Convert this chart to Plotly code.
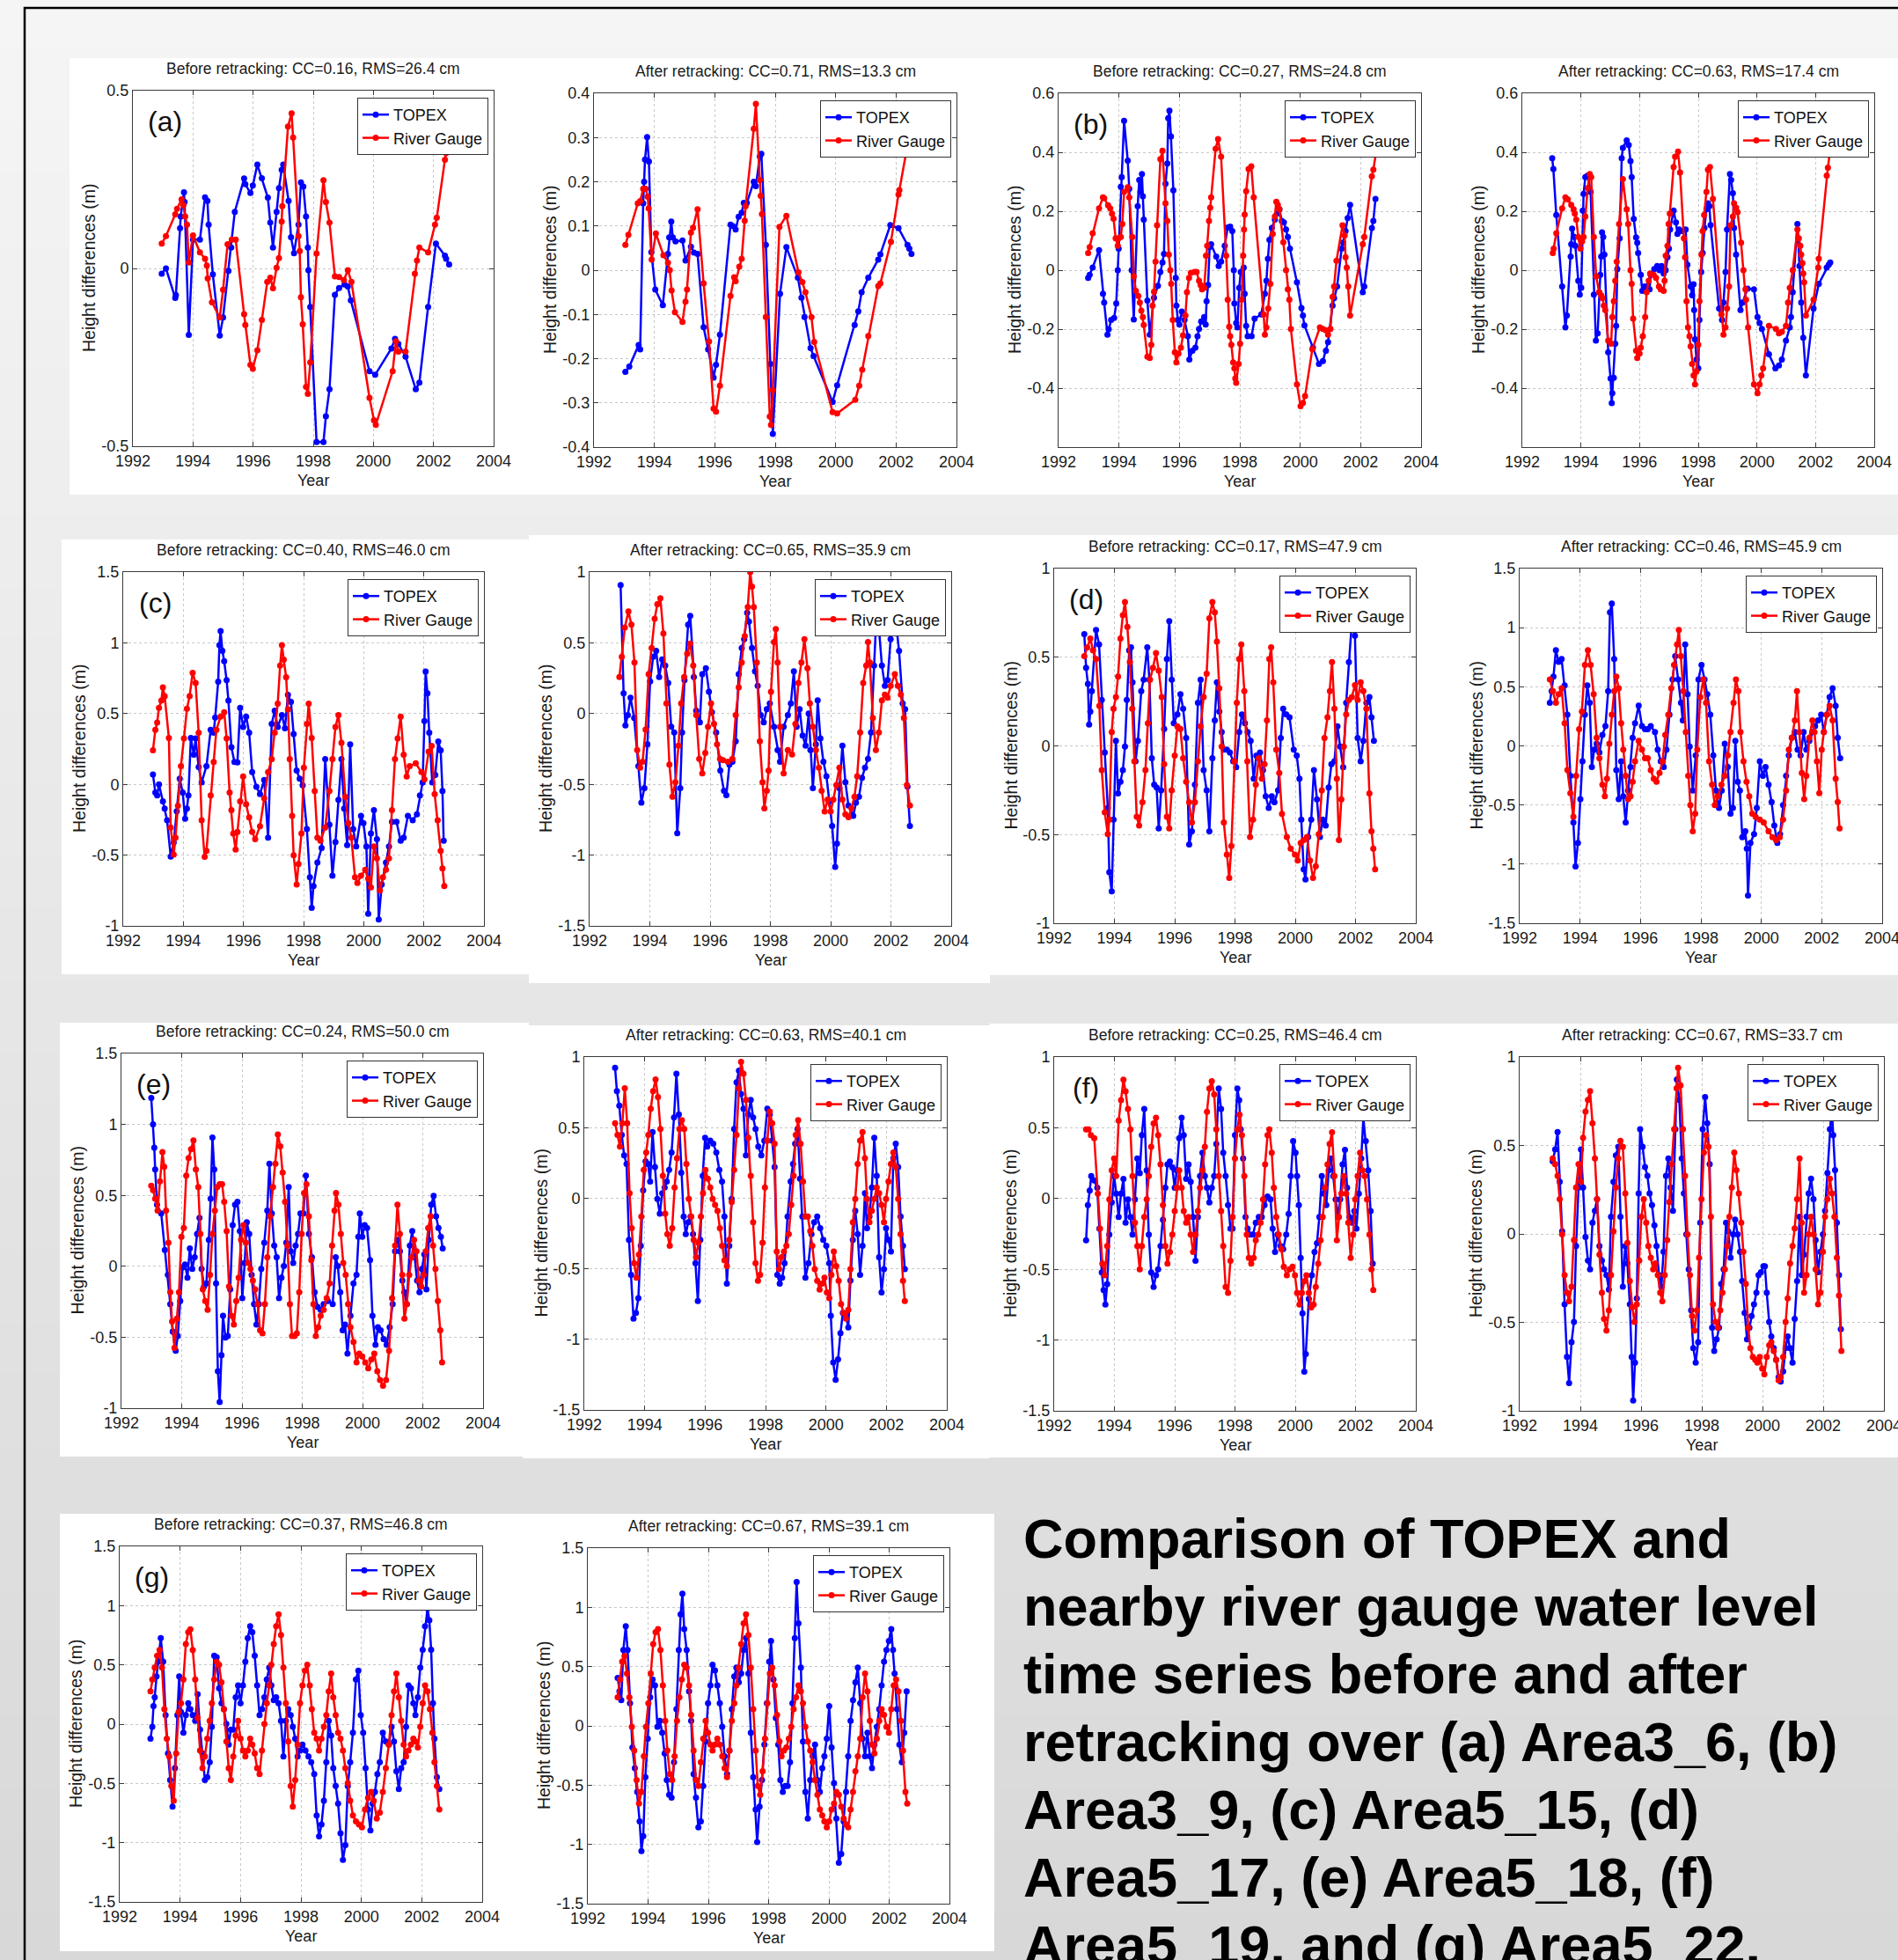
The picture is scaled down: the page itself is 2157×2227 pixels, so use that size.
import plotly.graph_objects as go

# ---------------- DATA (year, height difference in m) ----------------
A_BEF_TOPEX = [(1992.96,-0.015),(1993.10,0.0),(1993.41,-0.083),(1993.43,-0.075),(1993.57,0.113),(1993.59,0.146),(1993.70,0.214),(1993.72,0.187),(1993.86,-0.187),(1994.0,0.081),(1994.23,0.081),(1994.40,0.2),(1994.48,0.19),(1994.52,0.123),(1994.66,-0.017),(1994.89,-0.189),(1995.0,-0.138),(1995.18,-0.007),(1995.27,0.059),(1995.39,0.159),(1995.70,0.253),(1995.74,0.237),(1995.91,0.212),(1995.99,0.233),(1996.14,0.292),(1996.29,0.254),(1996.49,0.199),(1996.57,0.129),(1996.66,0.059),(1996.78,0.159),(1996.86,0.226),(1996.95,0.277),(1997.0,0.292),(1997.18,0.19),(1997.26,0.088),(1997.36,0.043),(1997.51,0.123),(1997.59,0.242),(1997.67,0.23),(1997.76,0.146),(1997.82,0.059),(1997.84,-0.005),(1997.90,-0.108),(1998.11,-0.488),(1998.34,-0.488),(1998.42,-0.416),(1998.54,-0.34),(1998.72,-0.074),(1998.86,-0.055),(1999.04,-0.045),(1999.15,-0.051),(1999.25,-0.09),(1999.87,-0.289),(2000.06,-0.299),(2000.60,-0.225),(2000.72,-0.198),(2000.83,-0.212),(2001.07,-0.248),(2001.41,-0.34),(2001.53,-0.321),(2001.82,-0.108),(2002.08,0.07),(2002.38,0.036),(2002.42,0.027),(2002.52,0.011)]
A_BEF_RIVER = [(1992.96,0.07),(1993.10,0.091),(1993.41,0.152),(1993.47,0.168),(1993.62,0.194),(1993.68,0.178),(1993.74,0.146),(1993.80,0.123),(1993.86,0.017),(1994.0,0.093),(1994.23,0.045),(1994.40,0.027),(1994.46,0.008),(1994.49,-0.028),(1994.63,-0.095),(1994.89,-0.138),(1995.0,-0.06),(1995.15,0.068),(1995.29,0.081),(1995.42,0.081),(1995.70,-0.129),(1995.74,-0.159),(1995.91,-0.271),(1995.99,-0.282),(1996.14,-0.23),(1996.29,-0.145),(1996.47,-0.038),(1996.57,-0.026),(1996.66,-0.056),(1996.78,0.002),(1996.86,0.029),(1996.95,0.132),(1996.97,0.175),(1997.16,0.399),(1997.28,0.436),(1997.33,0.368),(1997.51,0.091),(1997.55,0.049),(1997.59,-0.081),(1997.65,-0.157),(1997.76,-0.333),(1997.82,-0.353),(1997.90,-0.264),(1998.11,0.042),(1998.34,0.248),(1998.42,0.187),(1998.54,0.129),(1998.72,-0.022),(1998.86,-0.024),(1999.02,-0.033),(1999.15,-0.005),(1999.27,-0.038),(1999.87,-0.364),(2000.02,-0.427),(2000.08,-0.44),(2000.64,-0.289),(2000.75,-0.205),(2000.83,-0.234),(2001.07,-0.234),(2001.38,-0.015),(2001.45,0.022),(2001.53,0.059),(2001.82,0.045),(2002.05,0.123),(2002.11,0.143),(2002.38,0.306),(2002.42,0.324)]
A_AFT_TOPEX = [(1993.04,-0.23),(1993.17,-0.218),(1993.48,-0.169),(1993.53,-0.179),(1993.63,0.151),(1993.66,0.2),(1993.69,0.25),(1993.76,0.301),(1993.82,0.246),(1993.90,0.041),(1994.03,-0.044),(1994.28,-0.079),(1994.45,0.037),(1994.49,0.074),(1994.56,0.11),(1994.61,0.074),(1994.70,0.065),(1994.93,0.067),(1995.03,0.022),(1995.21,0.053),(1995.31,0.04),(1995.43,0.037),(1995.63,-0.129),(1995.78,-0.179),(1995.96,-0.243),(1996.04,-0.214),(1996.17,-0.146),(1996.52,0.103),(1996.59,0.1),(1996.69,0.092),(1996.79,0.121),(1996.89,0.13),(1996.96,0.152),(1997.06,0.152),(1997.29,0.2),(1997.36,0.19),(1997.49,0.257),(1997.54,0.263),(1997.69,0.057),(1997.84,-0.212),(1997.92,-0.37),(1998.16,-0.053),(1998.37,0.052),(1998.75,-0.017),(1998.87,-0.062),(1998.97,-0.106),(1999.17,-0.176),(1999.27,-0.194),(1999.90,-0.298),(2000.05,-0.26),(2000.63,-0.124),(2000.75,-0.093),(2000.86,-0.05),(2001.08,-0.017),(2001.41,0.024),(2001.48,0.036),(2001.81,0.102),(2002.08,0.095),(2002.38,0.057),(2002.44,0.049),(2002.51,0.037)]
A_AFT_RIVER = [(1993.04,0.057),(1993.14,0.08),(1993.45,0.151),(1993.53,0.156),(1993.63,0.184),(1993.71,0.184),(1993.78,0.166),(1993.81,0.14),(1993.91,0.024),(1994.05,0.083),(1994.30,0.034),(1994.45,0.017),(1994.51,0.0),(1994.57,-0.046),(1994.68,-0.095),(1994.93,-0.117),(1995.03,-0.071),(1995.08,-0.044),(1995.21,0.085),(1995.28,0.096),(1995.43,0.138),(1995.63,-0.03),(1995.81,-0.161),(1995.96,-0.313),(1996.04,-0.32),(1996.17,-0.261),(1996.52,-0.058),(1996.64,-0.016),(1996.69,-0.025),(1996.81,0.008),(1996.89,0.026),(1996.99,0.112),(1997.02,0.145),(1997.29,0.32),(1997.36,0.376),(1997.49,0.204),(1997.52,0.168),(1997.56,0.127),(1997.69,-0.106),(1997.82,-0.331),(1997.86,-0.35),(1997.92,-0.271),(1998.14,0.098),(1998.37,0.123),(1998.77,-0.005),(1998.90,-0.027),(1999.0,-0.05),(1999.20,-0.106),(1999.29,-0.162),(1999.90,-0.321),(2000.05,-0.324),(2000.65,-0.293),(2000.78,-0.261),(2000.88,-0.225),(2001.08,-0.149),(2001.41,-0.036),(2001.48,-0.03),(2001.83,0.064),(2002.08,0.171),(2002.11,0.181),(2002.44,0.306),(2002.54,0.369)]

B_BEF_TOPEX = [(1992.98,-0.026),(1993.03,-0.016),(1993.13,0.009),(1993.34,0.068),(1993.47,-0.08),(1993.51,-0.11),(1993.62,-0.219),(1993.66,-0.2),(1993.74,-0.169),(1993.84,-0.162),(1993.91,-0.113),(1993.96,0.0),(1993.99,0.073),(1994.06,0.283),(1994.09,0.316),(1994.17,0.507),(1994.29,0.372),(1994.34,0.276),(1994.42,0.0),(1994.49,-0.167),(1994.62,0.217),(1994.67,0.306),(1994.71,0.266),(1994.76,0.326),(1994.79,0.251),(1994.82,0.172),(1994.94,-0.103),(1995.02,-0.219),(1995.16,-0.093),(1995.29,-0.053),(1995.37,-0.006),(1995.44,0.026),(1995.49,0.055),(1995.54,0.293),(1995.60,0.362),(1995.63,0.516),(1995.67,0.541),(1995.72,0.454),(1995.80,0.271),(1995.88,-0.026),(1995.90,-0.12),(1995.95,-0.169),(1996.0,-0.184),(1996.08,-0.14),(1996.17,-0.169),(1996.28,-0.224),(1996.33,-0.303),(1996.43,-0.273),(1996.53,-0.263),(1996.60,-0.224),(1996.65,-0.199),(1996.72,-0.174),(1996.82,-0.159),(1996.87,-0.184),(1996.90,-0.105),(1996.95,-0.05),(1997.0,0.078),(1997.05,0.088),(1997.22,0.046),(1997.30,0.014),(1997.38,0.029),(1997.50,0.083),(1997.60,0.145),(1997.68,0.148),(1997.75,0.133),(1997.80,0.0),(1997.82,-0.113),(1997.88,-0.179),(1997.92,-0.194),(1997.98,-0.06),(1998.03,-0.006),(1998.13,0.009),(1998.16,-0.08),(1998.21,-0.189),(1998.26,-0.224),(1998.39,-0.224),(1998.49,-0.164),(1998.71,-0.15),(1998.83,-0.08),(1998.88,-0.036),(1998.93,0.039),(1998.98,0.103),(1999.06,0.143),(1999.16,0.172),(1999.23,0.192),(1999.31,0.207),(1999.39,0.167),(1999.46,0.162),(1999.53,0.138),(1999.59,0.113),(1999.66,0.073),(1999.89,-0.041),(2000.04,-0.128),(2000.09,-0.154),(2000.14,-0.187),(2000.42,-0.263),(2000.62,-0.318),(2000.75,-0.308),(2000.85,-0.273),(2000.92,-0.244),(2001.07,-0.12),(2001.12,-0.095),(2001.22,-0.055),(2001.37,0.073),(2001.42,0.093),(2001.50,0.133),(2001.57,0.177),(2001.65,0.222),(2002.07,-0.075),(2002.12,-0.055),(2002.37,0.143),(2002.42,0.167),(2002.49,0.242)]
B_BEF_RIVER = [(1992.98,0.058),(1993.03,0.078),(1993.13,0.125),(1993.34,0.21),(1993.47,0.247),(1993.51,0.244),(1993.64,0.22),(1993.71,0.21),(1993.77,0.192),(1993.82,0.175),(1993.89,0.108),(1993.96,0.083),(1993.99,0.108),(1994.06,0.113),(1994.11,0.157),(1994.17,0.266),(1994.29,0.281),(1994.34,0.247),(1994.44,0.113),(1994.49,-0.021),(1994.56,-0.07),(1994.64,-0.087),(1994.69,-0.11),(1994.74,-0.137),(1994.79,-0.159),(1994.82,-0.186),(1994.94,-0.293),(1995.02,-0.298),(1995.07,-0.253),(1995.11,-0.12),(1995.16,-0.073),(1995.21,0.029),(1995.26,0.152),(1995.37,0.377),(1995.44,0.405),(1995.54,0.227),(1995.60,0.167),(1995.65,0.053),(1995.70,0.0),(1995.73,-0.046),(1995.78,-0.169),(1995.85,-0.278),(1995.90,-0.313),(1995.97,-0.283),(1996.05,-0.263),(1996.12,-0.221),(1996.20,-0.154),(1996.25,-0.075),(1996.32,-0.026),(1996.38,-0.009),(1996.50,-0.006),(1996.57,-0.006),(1996.65,-0.036),(1996.70,-0.05),(1996.75,-0.065),(1996.82,-0.06),(1996.88,0.049),(1996.92,0.083),(1996.98,0.167),(1997.02,0.212),(1997.05,0.247),(1997.20,0.412),(1997.28,0.445),(1997.38,0.385),(1997.55,0.049),(1997.60,-0.1),(1997.65,-0.192),(1997.68,-0.224),(1997.72,-0.253),(1997.78,-0.313),(1997.82,-0.333),(1997.85,-0.367),(1997.88,-0.382),(1997.96,-0.318),(1998.01,-0.249),(1998.06,-0.1),(1998.11,0.049),(1998.14,0.138),(1998.16,0.189),(1998.21,0.268),(1998.29,0.343),(1998.38,0.352),(1998.46,0.247),(1998.79,-0.15),(1998.83,-0.219),(1998.88,-0.194),(1998.94,-0.13),(1999.01,-0.046),(1999.09,0.123),(1999.16,0.182),(1999.21,0.232),(1999.26,0.222),(1999.31,0.207),(1999.44,0.095),(1999.53,0.0),(1999.59,-0.065),(1999.64,-0.1),(1999.69,-0.199),(1999.89,-0.387),(2000.01,-0.461),(2000.09,-0.45),(2000.16,-0.427),(2000.40,-0.268),(2000.65,-0.194),(2000.75,-0.199),(2000.85,-0.204),(2000.92,-0.219),(2001.0,-0.199),(2001.07,-0.09),(2001.12,-0.055),(2001.20,0.032),(2001.40,0.152),(2001.47,0.118),(2001.50,0.044),(2001.54,0.009),(2001.59,-0.055),(2001.65,-0.154),(2002.07,0.088),(2002.12,0.113),(2002.37,0.319),(2002.42,0.341),(2002.52,0.405)]
B_AFT_TOPEX = [(1993.02,0.38),(1993.06,0.343),(1993.16,0.187),(1993.36,-0.055),(1993.47,-0.194),(1993.52,-0.154),(1993.65,0.046),(1993.67,0.088),(1993.70,0.141),(1993.77,0.113),(1993.81,0.083),(1993.91,-0.036),(1993.96,-0.083),(1994.01,-0.06),(1994.06,0.202),(1994.09,0.259),(1994.15,0.316),(1994.23,0.321),(1994.33,0.266),(1994.44,-0.083),(1994.51,-0.239),(1994.57,-0.214),(1994.62,-0.075),(1994.66,-0.016),(1994.69,0.046),(1994.72,0.128),(1994.76,0.113),(1994.80,0.053),(1994.93,-0.278),(1995.01,-0.367),(1995.05,-0.451),(1995.07,-0.417),(1995.12,-0.365),(1995.17,-0.249),(1995.20,-0.189),(1995.24,0.004),(1995.32,0.108),(1995.39,0.38),(1995.43,0.415),(1995.56,0.44),(1995.63,0.425),(1995.69,0.37),(1995.73,0.316),(1995.80,0.174),(1995.88,0.111),(1995.92,0.093),(1995.95,0.058),(1996.04,-0.016),(1996.09,-0.07),(1996.17,-0.055),(1996.24,-0.055),(1996.34,-0.065),(1996.38,-0.016),(1996.50,0.004),(1996.60,0.014),(1996.68,0.0),(1996.75,0.014),(1996.82,-0.011),(1996.89,0.0),(1996.95,0.044),(1997.0,0.073),(1997.04,0.138),(1997.16,0.202),(1997.24,0.162),(1997.29,0.123),(1997.35,0.138),(1997.43,0.133),(1997.57,0.138),(1997.63,0.019),(1997.74,-0.055),(1997.79,-0.085),(1997.84,-0.048),(1997.86,-0.135),(1997.89,-0.234),(1997.94,-0.303),(1998.0,-0.333),(1998.04,-0.169),(1998.10,-0.006),(1998.15,0.058),(1998.21,0.143),(1998.28,0.207),(1998.33,0.227),(1998.38,0.217),(1998.42,0.153),(1998.71,-0.13),(1998.81,-0.169),(1998.86,-0.11),(1998.93,-0.006),(1998.98,0.138),(1999.08,0.326),(1999.12,0.306),(1999.18,0.261),(1999.22,0.143),(1999.29,0.053),(1999.44,-0.135),(1999.51,-0.11),(1999.68,-0.063),(1999.90,-0.065),(2000.02,-0.159),(2000.09,-0.179),(2000.17,-0.199),(2000.41,-0.285),(2000.63,-0.333),(2000.75,-0.323),(2000.85,-0.303),(2000.99,-0.239),(2001.12,-0.194),(2001.16,-0.159),(2001.22,-0.075),(2001.38,0.157),(2001.45,0.014),(2001.51,-0.11),(2001.58,-0.229),(2001.67,-0.357),(2001.93,-0.13),(2002.11,-0.046),(2002.38,0.009),(2002.45,0.019),(2002.50,0.026)]
B_AFT_RIVER = [(1993.04,0.058),(1993.07,0.073),(1993.16,0.125),(1993.36,0.21),(1993.47,0.247),(1993.55,0.24),(1993.67,0.222),(1993.75,0.207),(1993.79,0.192),(1993.84,0.172),(1993.91,0.113),(1993.98,0.073),(1994.04,0.098),(1994.09,0.113),(1994.15,0.182),(1994.23,0.278),(1994.30,0.326),(1994.35,0.316),(1994.44,0.113),(1994.52,-0.021),(1994.62,-0.075),(1994.69,-0.085),(1994.74,-0.095),(1994.78,-0.12),(1994.83,-0.135),(1994.93,-0.239),(1995.03,-0.249),(1995.07,-0.159),(1995.12,-0.105),(1995.17,-0.036),(1995.22,0.029),(1995.30,0.157),(1995.43,0.309),(1995.56,0.207),(1995.61,0.157),(1995.69,0.0),(1995.73,-0.046),(1995.78,-0.164),(1995.88,-0.273),(1995.92,-0.298),(1996.0,-0.283),(1996.04,-0.263),(1996.11,-0.224),(1996.19,-0.159),(1996.24,-0.075),(1996.31,-0.036),(1996.36,-0.011),(1996.48,-0.016),(1996.56,-0.026),(1996.66,-0.055),(1996.72,-0.065),(1996.82,-0.07),(1996.85,-0.036),(1996.89,0.049),(1996.95,0.083),(1996.99,0.157),(1997.03,0.192),(1997.16,0.35),(1997.21,0.385),(1997.31,0.402),(1997.38,0.331),(1997.51,0.108),(1997.55,0.044),(1997.60,-0.105),(1997.65,-0.194),(1997.70,-0.224),(1997.74,-0.258),(1997.79,-0.318),(1997.84,-0.357),(1997.89,-0.387),(1997.94,-0.343),(1998.0,-0.253),(1998.04,-0.105),(1998.11,0.053),(1998.15,0.133),(1998.20,0.187),(1998.28,0.266),(1998.33,0.341),(1998.40,0.35),(1998.50,0.242),(1998.79,-0.15),(1998.86,-0.219),(1998.93,-0.194),(1998.98,-0.13),(1999.05,-0.055),(1999.10,0.152),(1999.18,0.182),(1999.22,0.227),(1999.29,0.212),(1999.34,0.197),(1999.46,0.093),(1999.54,0.0),(1999.61,-0.065),(1999.63,-0.1),(1999.70,-0.194),(1999.90,-0.387),(2000.02,-0.417),(2000.09,-0.387),(2000.15,-0.357),(2000.21,-0.333),(2000.41,-0.189),(2000.65,-0.199),(2000.75,-0.214),(2000.85,-0.209),(2000.99,-0.189),(2001.06,-0.11),(2001.12,-0.06),(2001.22,0.0),(2001.38,0.138),(2001.43,0.108),(2001.48,0.083),(2001.51,0.053),(2001.55,0.024),(2001.58,-0.011),(2001.61,-0.041),(2001.67,-0.154),(2001.93,-0.1),(2002.09,0.009),(2002.11,0.039),(2002.38,0.321),(2002.42,0.348),(2002.50,0.41)]

C_BEF_TOPEX = [(1992.99,0.07),(1993.07,-0.058),(1993.13,-0.078),(1993.19,0.0),(1993.32,-0.12),(1993.38,-0.171),(1993.46,-0.254),(1993.58,-0.51),(1993.68,-0.41),(1993.78,-0.19),(1993.88,0.04),(1993.98,-0.058),(1994.06,-0.243),(1994.12,-0.171),(1994.17,-0.078),(1994.25,0.328),(1994.35,0.21),(1994.41,0.324),(1994.51,0.122),(1994.61,0.014),(1994.77,0.128),(1994.91,0.386),(1995.01,0.365),(1995.06,0.472),(1995.16,0.726),(1995.20,0.984),(1995.24,1.083),(1995.30,0.943),(1995.36,0.87),(1995.44,0.736),(1995.50,0.592),(1995.60,0.262),(1995.70,0.159),(1995.80,0.155),(1995.89,0.54),(1995.99,0.406),(1996.09,0.478),(1996.19,0.365),(1996.29,0.087),(1996.43,-0.017),(1996.55,-0.068),(1996.69,0.031),(1996.82,-0.377),(1996.94,0.427),(1997.04,0.52),(1997.14,0.406),(1997.28,0.489),(1997.38,0.396),(1997.48,0.633),(1997.58,0.582),(1997.67,0.355),(1997.77,0.097),(1997.87,0.04),(1997.97,-0.006),(1998.11,-0.316),(1998.21,-0.656),(1998.27,-0.872),(1998.33,-0.718),(1998.46,-0.553),(1998.60,-0.45),(1998.72,0.179),(1998.86,-0.285),(1998.96,-0.646),(1999.06,-0.408),(1999.16,-0.109),(1999.26,0.179),(1999.35,-0.171),(1999.45,-0.429),(1999.55,0.283),(1999.65,-0.316),(1999.75,-0.439),(1999.91,-0.223),(1999.99,-0.274),(2000.09,-0.439),(2000.15,-0.914),(2000.24,-0.347),(2000.34,-0.182),(2000.44,-0.388),(2000.50,-0.955),(2000.60,-0.708),(2000.74,-0.553),(2000.84,-0.439),(2000.94,-0.264),(2001.09,-0.264),(2001.23,-0.398),(2001.33,-0.377),(2001.47,-0.223),(2001.63,-0.254),(2001.77,-0.212),(2001.87,-0.078),(2001.96,0.014),(2002.02,0.448),(2002.06,0.798),(2002.12,0.644),(2002.18,0.365),(2002.28,0.014),(2002.38,0.066),(2002.48,0.303),(2002.56,0.241),(2002.62,-0.047),(2002.66,-0.398)]
C_BEF_RIVER = [(1992.99,0.241),(1993.07,0.386),(1993.13,0.437),(1993.19,0.54),(1993.27,0.592),(1993.32,0.685),(1993.38,0.623),(1993.52,0.328),(1993.58,-0.305),(1993.68,-0.497),(1993.74,-0.377),(1993.82,-0.151),(1993.92,0.128),(1994.02,0.324),(1994.12,0.534),(1994.21,0.623),(1994.31,0.788),(1994.41,0.716),(1994.51,0.365),(1994.61,-0.254),(1994.71,-0.512),(1994.77,-0.47),(1994.91,-0.078),(1995.01,0.159),(1995.10,0.386),(1995.24,0.479),(1995.36,0.51),(1995.44,0.324),(1995.54,-0.058),(1995.60,-0.182),(1995.66,-0.347),(1995.74,-0.46),(1995.80,-0.336),(1995.89,-0.12),(1995.99,0.056),(1996.09,-0.14),(1996.19,-0.233),(1996.29,-0.336),(1996.39,-0.388),(1996.55,-0.295),(1996.69,-0.099),(1996.82,0.087),(1996.94,0.179),(1997.04,0.365),(1997.14,0.571),(1997.22,0.84),(1997.28,0.984),(1997.34,0.881),(1997.42,0.757),(1997.48,0.53),(1997.54,0.179),(1997.62,-0.223),(1997.67,-0.501),(1997.77,-0.708),(1997.83,-0.563),(1997.93,-0.347),(1998.01,0.118),(1998.11,0.427),(1998.17,0.571),(1998.27,0.328),(1998.37,-0.047),(1998.46,-0.377),(1998.56,-0.398),(1998.72,-0.305),(1998.86,-0.047),(1998.96,0.179),(1999.06,0.406),(1999.16,0.489),(1999.26,0.293),(1999.39,-0.089),(1999.49,-0.274),(1999.59,-0.377),(1999.71,-0.656),(1999.79,-0.697),(1999.91,-0.646),(2000.05,-0.604),(2000.15,-0.666),(2000.24,-0.728),(2000.34,-0.439),(2000.44,-0.522),(2000.54,-0.749),(2000.64,-0.656),(2000.74,-0.604),(2000.84,-0.522),(2000.94,-0.182),(2001.04,0.179),(2001.13,0.324),(2001.23,0.479),(2001.33,0.21),(2001.43,0.056),(2001.53,0.128),(2001.73,0.149),(2001.92,0.087),(2002.02,0.035),(2002.16,0.231),(2002.26,0.272),(2002.36,-0.068),(2002.46,-0.254),(2002.56,-0.47),(2002.62,-0.594),(2002.68,-0.718)]
C_AFT_TOPEX = [(1993.03,0.908),(1993.13,0.144),(1993.19,-0.083),(1993.27,-0.01),(1993.36,0.113),(1993.48,-0.031),(1993.62,-0.371),(1993.72,-0.629),(1993.82,-0.526),(1993.92,-0.217),(1994.01,0.227),(1994.11,0.402),(1994.21,0.443),(1994.31,0.258),(1994.41,0.382),(1994.51,0.34),(1994.61,0.217),(1994.71,-0.093),(1994.81,-0.134),(1994.91,-0.846),(1995.01,-0.526),(1995.07,-0.134),(1995.15,0.237),(1995.27,0.629),(1995.34,0.691),(1995.46,0.258),(1995.54,0.021),(1995.66,-0.062),(1995.74,0.278),(1995.86,0.32),(1995.96,0.155),(1996.06,0.01),(1996.20,-0.134),(1996.34,-0.402),(1996.46,-0.546),(1996.54,-0.577),(1996.64,-0.361),(1996.74,-0.34),(1996.85,-0.196),(1996.95,0.278),(1997.05,0.464),(1997.13,0.526),(1997.23,0.712),(1997.29,0.65),(1997.39,0.464),(1997.49,0.299),(1997.58,0.196),(1997.68,-0.01),(1997.78,-0.062),(1997.88,0.031),(1997.98,0.072),(1998.12,-0.093),(1998.24,-0.258),(1998.32,-0.34),(1998.44,-0.093),(1998.58,-0.01),(1998.68,0.072),(1998.78,0.299),(1998.87,-0.093),(1998.97,0.031),(1999.07,-0.155),(1999.17,-0.227),(1999.27,0.0),(1999.33,-0.258),(1999.41,-0.526),(1999.51,-0.217),(1999.57,0.093),(1999.66,-0.175),(1999.76,-0.34),(1999.86,-0.443),(1999.96,-0.619),(2000.05,-0.794),(2000.15,-1.083),(2000.21,-0.918),(2000.29,-0.526),(2000.39,-0.227),(2000.49,-0.485),(2000.59,-0.65),(2000.75,-0.722),(2000.84,-0.629),(2000.94,-0.588),(2001.04,-0.454),(2001.14,-0.382),(2001.24,-0.32),(2001.34,-0.134),(2001.44,0.34),(2001.50,0.608),(2001.60,0.608),(2001.70,0.34),(2001.80,0.196),(2001.89,0.237),(2001.99,0.526),(2002.07,0.588),(2002.19,0.598),(2002.27,0.443),(2002.39,0.072),(2002.47,0.031),(2002.55,-0.516),(2002.63,-0.794)]
C_AFT_RIVER = [(1992.99,0.258),(1993.07,0.402),(1993.17,0.608),(1993.29,0.722),(1993.39,0.629),(1993.49,0.361),(1993.58,-0.258),(1993.68,-0.382),(1993.76,-0.34),(1993.86,-0.113),(1993.96,0.278),(1994.06,0.464),(1994.16,0.67),(1994.25,0.773),(1994.35,0.815),(1994.45,0.567),(1994.55,0.072),(1994.65,-0.361),(1994.75,-0.588),(1994.85,-0.485),(1994.95,-0.227),(1995.04,0.072),(1995.14,0.258),(1995.24,0.423),(1995.34,0.495),(1995.44,0.34),(1995.54,-0.01),(1995.64,-0.32),(1995.74,-0.423),(1995.84,-0.278),(1995.93,-0.093),(1996.03,0.072),(1996.13,-0.072),(1996.23,-0.217),(1996.33,-0.32),(1996.43,-0.33),(1996.59,-0.34),(1996.74,-0.32),(1996.85,-0.01),(1996.95,0.186),(1997.05,0.361),(1997.15,0.547),(1997.25,0.753),(1997.33,1.0),(1997.39,0.897),(1997.45,0.753),(1997.55,0.361),(1997.65,-0.196),(1997.74,-0.485),(1997.80,-0.67),(1997.88,-0.546),(1997.94,-0.402),(1998.02,0.155),(1998.12,0.505),(1998.18,0.598),(1998.24,0.361),(1998.32,-0.093),(1998.44,-0.423),(1998.58,-0.258),(1998.72,-0.289),(1998.83,-0.072),(1998.93,0.217),(1999.03,0.361),(1999.13,0.526),(1999.23,0.32),(1999.31,0.072),(1999.41,-0.093),(1999.51,-0.258),(1999.61,-0.382),(1999.70,-0.546),(1999.80,-0.691),(1999.90,-0.608),(2000.0,-0.691),(2000.09,-0.608),(2000.19,-0.505),(2000.29,-0.382),(2000.39,-0.608),(2000.49,-0.712),(2000.59,-0.732),(2000.69,-0.67),(2000.79,-0.588),(2000.88,-0.443),(2000.98,-0.134),(2001.08,0.217),(2001.18,0.34),(2001.24,0.505),(2001.30,0.361),(2001.40,-0.031),(2001.50,-0.258),(2001.60,-0.134),(2001.70,0.093),(2001.80,0.134),(2001.89,0.113),(2001.99,0.196),(2002.13,0.278),(2002.23,0.196),(2002.33,0.134),(2002.43,-0.031),(2002.53,-0.505),(2002.63,-0.65)]

D_BEF_TOPEX = [(1993.0,0.63),(1993.06,0.44),(1993.12,0.35),(1993.16,0.12),(1993.20,0.193),(1993.25,0.309),(1993.39,0.654),(1993.49,0.572),(1993.58,0.259),(1993.68,-0.037),(1993.78,-0.35),(1993.83,-0.712),(1993.91,-0.82),(1993.97,-0.416),(1994.05,0.029),(1994.12,-0.268),(1994.20,-0.202),(1994.28,-0.136),(1994.35,-0.004),(1994.41,0.259),(1994.49,0.539),(1994.55,0.556),(1994.60,0.358),(1994.70,-0.087),(1994.78,0.029),(1994.89,0.309),(1994.97,0.374),(1995.09,0.556),(1995.16,0.374),(1995.24,-0.07),(1995.32,-0.218),(1995.40,-0.235),(1995.47,-0.465),(1995.55,-0.251),(1995.65,0.095),(1995.74,0.49),(1995.82,0.704),(1995.90,0.374),(1995.97,0.128),(1996.09,0.177),(1996.19,0.292),(1996.28,0.21),(1996.38,0.045),(1996.48,-0.556),(1996.57,-0.481),(1996.67,-0.218),(1996.77,0.243),(1996.86,0.374),(1996.96,-0.136),(1997.06,-0.251),(1997.15,-0.481),(1997.25,-0.07),(1997.33,0.144),(1997.40,0.358),(1997.48,0.193),(1997.56,0.078),(1997.63,-0.021),(1997.73,-0.021),(1997.83,-0.037),(1997.94,-0.087),(1998.04,-0.12),(1998.14,0.078),(1998.23,0.177),(1998.33,0.128),(1998.42,0.078),(1998.52,0.029),(1998.62,-0.185),(1998.71,-0.054),(1998.83,-0.037),(1998.93,-0.136),(1999.02,-0.284),(1999.12,-0.35),(1999.22,-0.284),(1999.31,-0.317),(1999.43,-0.251),(1999.52,0.045),(1999.60,0.21),(1999.70,0.177),(1999.81,0.161),(1999.95,-0.021),(2000.05,-0.054),(2000.14,-0.185),(2000.20,-0.416),(2000.28,-0.696),(2000.34,-0.753),(2000.43,-0.514),(2000.53,-0.416),(2000.62,-0.136),(2000.72,-0.301),(2000.82,-0.514),(2000.91,-0.416),(2001.01,-0.449),(2001.11,-0.235),(2001.20,-0.103),(2001.30,-0.087),(2001.40,0.111),(2001.49,-0.004),(2001.59,-0.12),(2001.69,0.243),(2001.78,0.473),(2001.88,0.704),(2001.98,0.622),(2002.07,0.045),(2002.17,-0.087),(2002.26,0.029),(2002.36,0.243),(2002.46,0.276),(2002.53,0.161),(2002.61,0.029)]
D_BEF_RIVER = [(1993.0,0.506),(1993.10,0.556),(1993.20,0.605),(1993.29,0.539),(1993.39,0.49),(1993.50,0.226),(1993.58,-0.136),(1993.68,-0.375),(1993.78,-0.498),(1993.83,-0.416),(1993.91,0.078),(1993.97,0.21),(1994.05,0.276),(1994.12,0.391),(1994.20,0.605),(1994.28,0.737),(1994.35,0.811),(1994.43,0.671),(1994.51,0.473),(1994.59,0.21),(1994.66,-0.087),(1994.74,-0.4),(1994.82,-0.449),(1994.93,-0.317),(1995.03,-0.136),(1995.11,0.128),(1995.18,0.374),(1995.28,0.44),(1995.38,0.523),(1995.47,0.424),(1995.57,0.276),(1995.65,-0.103),(1995.74,-0.4),(1995.82,-0.465),(1995.90,-0.251),(1996.0,-0.054),(1996.09,0.111),(1996.19,0.095),(1996.28,-0.07),(1996.38,-0.202),(1996.48,-0.317),(1996.57,-0.432),(1996.67,-0.317),(1996.77,-0.087),(1996.86,0.111),(1996.96,0.276),(1997.06,0.407),(1997.15,0.72),(1997.25,0.811),(1997.33,0.753),(1997.40,0.588),(1997.48,0.325),(1997.56,-0.004),(1997.63,-0.432),(1997.73,-0.613),(1997.81,-0.745),(1997.88,-0.564),(1997.98,-0.087),(1998.06,0.243),(1998.14,0.49),(1998.21,0.572),(1998.31,0.309),(1998.41,-0.087),(1998.50,-0.514),(1998.60,-0.416),(1998.69,-0.218),(1998.79,-0.07),(1998.89,-0.185),(1998.98,-0.103),(1999.06,0.144),(1999.14,0.49),(1999.20,0.556),(1999.27,0.358),(1999.37,-0.021),(1999.47,-0.152),(1999.56,-0.383),(1999.72,-0.514),(1999.85,-0.58),(1999.99,-0.613),(2000.08,-0.646),(2000.18,-0.547),(2000.28,-0.531),(2000.39,-0.514),(2000.49,-0.646),(2000.59,-0.745),(2000.68,-0.679),(2000.78,-0.498),(2000.88,-0.251),(2000.97,0.045),(2001.07,0.161),(2001.15,0.309),(2001.22,0.473),(2001.30,0.21),(2001.38,-0.185),(2001.45,-0.531),(2001.53,-0.301),(2001.61,-0.004),(2001.69,0.177),(2001.78,0.259),(2001.88,0.276),(2001.98,0.342),(2002.07,0.259),(2002.17,0.358),(2002.26,0.309),(2002.36,0.21),(2002.46,-0.268),(2002.53,-0.481),(2002.59,-0.58),(2002.65,-0.696)]
D_AFT_TOPEX = [(1993.0,0.364),(1993.06,0.463),(1993.12,0.586),(1993.20,0.809),(1993.29,0.71),(1993.39,0.735),(1993.49,0.512),(1993.58,0.265),(1993.68,-0.253),(1993.78,-0.648),(1993.85,-1.019),(1993.93,-0.821),(1994.01,-0.451),(1994.08,-0.13),(1994.16,0.265),(1994.24,0.512),(1994.32,0.364),(1994.39,-0.179),(1994.47,-0.031),(1994.55,0.019),(1994.64,-0.056),(1994.74,0.093),(1994.84,0.167),(1994.93,0.463),(1994.99,1.13),(1995.05,1.204),(1995.13,0.735),(1995.20,-0.204),(1995.28,-0.451),(1995.36,-0.13),(1995.43,-0.426),(1995.51,-0.648),(1995.59,-0.377),(1995.67,-0.179),(1995.74,0.068),(1995.82,0.191),(1995.94,0.34),(1996.05,0.167),(1996.15,0.142),(1996.24,0.142),(1996.34,0.167),(1996.48,0.117),(1996.57,-0.031),(1996.67,-0.13),(1996.77,-0.179),(1996.86,-0.031),(1996.96,0.265),(1997.06,0.562),(1997.15,0.759),(1997.25,0.562),(1997.34,0.364),(1997.40,0.216),(1997.48,0.858),(1997.56,0.438),(1997.63,-0.006),(1997.73,-0.377),(1997.83,-0.08),(1997.92,0.562),(1998.02,0.685),(1998.12,0.562),(1998.21,0.438),(1998.31,0.265),(1998.41,-0.08),(1998.50,-0.377),(1998.60,-0.525),(1998.69,-0.377),(1998.79,0.019),(1998.89,-0.179),(1998.98,-0.574),(1999.06,-0.525),(1999.14,0.043),(1999.22,-0.303),(1999.29,-0.377),(1999.37,-0.772),(1999.47,-0.722),(1999.52,-0.87),(1999.56,-1.265),(1999.64,-0.821),(1999.76,-0.747),(1999.85,-0.525),(1999.95,-0.13),(2000.05,-0.253),(2000.14,-0.179),(2000.24,-0.327),(2000.34,-0.475),(2000.43,-0.673),(2000.53,-0.821),(2000.62,-0.747),(2000.72,-0.5),(2000.82,-0.253),(2000.91,-0.08),(2001.01,0.068),(2001.11,0.117),(2001.20,-0.031),(2001.30,-0.08),(2001.40,0.117),(2001.49,-0.031),(2001.59,0.043),(2001.69,0.117),(2001.78,0.167),(2001.88,0.216),(2001.98,0.265),(2002.07,0.117),(2002.17,0.265),(2002.26,0.413),(2002.36,0.488),(2002.46,0.339),(2002.53,0.068),(2002.61,-0.105)]
D_AFT_RIVER = [(1993.0,0.562),(1993.10,0.463),(1993.20,0.364),(1993.29,0.438),(1993.39,0.488),(1993.49,0.191),(1993.58,-0.204),(1993.68,-0.401),(1993.78,-0.599),(1993.87,-0.253),(1993.97,0.142),(1994.06,0.29),(1994.16,0.685),(1994.26,0.809),(1994.35,0.685),(1994.45,0.438),(1994.55,0.068),(1994.64,-0.105),(1994.74,-0.327),(1994.82,-0.426),(1994.89,-0.278),(1994.97,0.019),(1995.05,0.265),(1995.13,0.463),(1995.20,0.586),(1995.28,0.488),(1995.36,0.191),(1995.43,-0.031),(1995.51,-0.253),(1995.59,-0.451),(1995.67,-0.426),(1995.74,-0.303),(1995.82,-0.13),(1995.94,0.043),(1996.05,-0.031),(1996.15,-0.105),(1996.24,-0.105),(1996.34,-0.204),(1996.44,-0.278),(1996.53,-0.303),(1996.63,-0.229),(1996.73,-0.13),(1996.82,0.093),(1996.92,0.265),(1997.02,0.488),(1997.11,0.685),(1997.21,0.858),(1997.27,0.981),(1997.34,0.759),(1997.42,0.463),(1997.50,0.117),(1997.58,-0.253),(1997.65,-0.5),(1997.73,-0.722),(1997.81,-0.574),(1997.88,-0.031),(1997.98,0.414),(1998.08,0.562),(1998.17,0.364),(1998.27,-0.13),(1998.37,-0.327),(1998.46,-0.5),(1998.56,-0.426),(1998.68,-0.327),(1998.79,-0.253),(1998.89,-0.08),(1998.98,0.117),(1999.08,0.364),(1999.16,0.562),(1999.24,0.463),(1999.31,0.117),(1999.41,-0.13),(1999.51,-0.303),(1999.60,-0.426),(1999.70,-0.574),(1999.81,-0.599),(1999.95,-0.623),(2000.08,-0.648),(2000.24,-0.722),(2000.37,-0.772),(2000.49,-0.796),(2000.61,-0.772),(2000.72,-0.623),(2000.82,-0.377),(2000.91,-0.031),(2001.01,0.068),(2001.11,0.216),(2001.18,0.463),(2001.26,0.117),(2001.34,-0.229),(2001.42,-0.451),(2001.49,-0.253),(2001.59,0.068),(2001.69,0.216),(2001.76,0.117),(2001.84,-0.13),(2001.92,-0.401),(2002.0,-0.031),(2002.07,0.117),(2002.17,0.265),(2002.26,0.339),(2002.36,0.216),(2002.46,-0.278),(2002.53,-0.475),(2002.59,-0.698)]

E_BEF_TOPEX = [(1992.99,1.186),(1993.05,1.0),(1993.09,0.836),(1993.12,0.682),(1993.18,0.435),(1993.32,0.373),(1993.44,0.115),(1993.54,-0.06),(1993.62,-0.266),(1993.70,-0.461),(1993.80,-0.595),(1993.87,-0.492),(1993.95,-0.245),(1994.03,-0.008),(1994.11,0.012),(1994.19,-0.08),(1994.27,0.126),(1994.35,-0.019),(1994.43,0.064),(1994.51,0.229),(1994.59,0.342),(1994.66,-0.019),(1994.74,-0.142),(1994.82,-0.121),(1994.90,0.187),(1994.96,0.476),(1995.02,0.908),(1995.08,0.682),(1995.14,-0.121),(1995.20,-0.739),(1995.26,-0.956),(1995.32,-0.626),(1995.37,-0.348),(1995.45,-0.502),(1995.53,-0.492),(1995.61,-0.163),(1995.69,0.29),(1995.77,0.435),(1995.85,0.455),(1995.93,0.249),(1996.01,-0.224),(1996.09,0.023),(1996.16,0.311),(1996.24,0.229),(1996.32,-0.06),(1996.40,-0.266),(1996.48,-0.41),(1996.56,-0.266),(1996.64,-0.019),(1996.74,0.167),(1996.84,0.393),(1996.91,0.723),(1996.99,0.373),(1997.07,0.146),(1997.15,0.064),(1997.23,-0.224),(1997.31,-0.08),(1997.39,0.002),(1997.47,0.167),(1997.55,0.558),(1997.62,0.105),(1997.70,0.023),(1997.78,0.146),(1997.86,0.229),(1997.94,0.373),(1998.04,0.373),(1998.12,0.64),(1998.22,0.229),(1998.32,0.064),(1998.41,-0.183),(1998.51,-0.286),(1998.61,-0.307),(1998.71,-0.266),(1998.85,-0.245),(1999.01,-0.266),(1999.11,0.064),(1999.18,0.002),(1999.26,-0.183),(1999.34,-0.451),(1999.42,-0.41),(1999.50,-0.616),(1999.60,-0.348),(1999.70,-0.121),(1999.80,-0.06),(1999.86,0.208),(1999.91,0.373),(1999.99,0.208),(2000.07,0.29),(2000.15,0.27),(2000.25,0.043),(2000.33,-0.348),(2000.43,-0.554),(2000.51,-0.43),(2000.60,-0.451),(2000.70,-0.513),(2000.80,-0.554),(2000.90,-0.43),(2001.0,-0.266),(2001.08,0.105),(2001.16,0.187),(2001.24,0.105),(2001.32,-0.101),(2001.39,-0.183),(2001.47,-0.266),(2001.57,0.146),(2001.65,0.249),(2001.73,0.064),(2001.81,-0.101),(2001.89,-0.183),(2001.97,-0.019),(2002.05,0.084),(2002.12,-0.163),(2002.20,0.187),(2002.28,0.435),(2002.36,0.496),(2002.44,0.352),(2002.52,0.27),(2002.60,0.208),(2002.66,0.126)]
E_BEF_RIVER = [(1992.99,0.568),(1993.05,0.537),(1993.12,0.476),(1993.20,0.393),(1993.28,0.599),(1993.36,0.805),(1993.42,0.702),(1993.48,0.393),(1993.56,0.167),(1993.62,-0.183),(1993.68,-0.389),(1993.76,-0.575),(1993.84,-0.369),(1993.91,-0.183),(1993.99,0.208),(1994.07,0.27),(1994.15,0.64),(1994.23,0.764),(1994.31,0.826),(1994.39,0.888),(1994.47,0.682),(1994.55,0.558),(1994.62,0.229),(1994.70,-0.163),(1994.78,-0.245),(1994.86,-0.307),(1994.94,-0.06),(1995.02,0.229),(1995.10,0.393),(1995.18,0.558),(1995.26,0.579),(1995.34,0.579),(1995.41,0.455),(1995.49,0.249),(1995.57,-0.142),(1995.65,-0.348),(1995.73,-0.41),(1995.81,-0.245),(1995.89,-0.08),(1995.97,0.187),(1996.05,0.29),(1996.13,0.167),(1996.20,0.023),(1996.28,-0.019),(1996.36,-0.101),(1996.44,-0.163),(1996.52,-0.266),(1996.60,-0.451),(1996.68,-0.472),(1996.76,-0.266),(1996.84,0.064),(1996.93,0.352),(1997.03,0.558),(1997.11,0.723),(1997.19,0.929),(1997.27,0.846),(1997.35,0.661),(1997.43,0.455),(1997.51,0.146),(1997.59,-0.266),(1997.66,-0.492),(1997.74,-0.492),(1997.82,-0.472),(1997.90,-0.183),(1997.98,0.229),(1998.06,0.517),(1998.14,0.579),(1998.22,0.352),(1998.30,0.043),(1998.37,-0.266),(1998.45,-0.492),(1998.53,-0.43),(1998.61,-0.348),(1998.71,-0.307),(1998.81,-0.224),(1998.91,-0.121),(1998.99,0.146),(1999.07,0.393),(1999.12,0.517),(1999.20,0.435),(1999.28,0.229),(1999.36,0.023),(1999.44,-0.06),(1999.52,-0.266),(1999.60,-0.43),(1999.70,-0.533),(1999.80,-0.677),(1999.89,-0.616),(1999.99,-0.636),(2000.09,-0.677),(2000.19,-0.719),(2000.29,-0.657),(2000.39,-0.616),(2000.49,-0.739),(2000.58,-0.801),(2000.68,-0.842),(2000.78,-0.801),(2000.88,-0.595),(2000.98,-0.224),(2001.08,0.146),(2001.16,0.435),(2001.24,0.229),(2001.32,-0.06),(2001.39,-0.369),(2001.47,-0.266),(2001.55,-0.06),(2001.63,0.064),(2001.71,0.187),(2001.79,0.105),(2001.87,-0.101),(2001.95,-0.142),(2002.03,-0.06),(2002.10,0.105),(2002.18,0.27),(2002.26,0.352),(2002.34,0.146),(2002.42,-0.019),(2002.50,-0.245),(2002.58,-0.451),(2002.64,-0.677)]
E_AFT_TOPEX = [(1993.02,0.924),(1993.08,0.758),(1993.16,0.655),(1993.24,0.448),(1993.32,0.304),(1993.40,0.242),(1993.48,-0.295),(1993.55,-0.543),(1993.63,-0.853),(1993.71,-0.812),(1993.79,-0.709),(1993.87,-0.337),(1993.95,0.056),(1994.03,0.262),(1994.11,0.242),(1994.18,0.118),(1994.26,0.469),(1994.34,0.221),(1994.42,-0.006),(1994.50,-0.11),(1994.58,0.035),(1994.66,0.076),(1994.73,0.118),(1994.81,0.2),(1994.89,0.324),(1994.97,0.572),(1995.05,0.882),(1995.13,0.593),(1995.21,0.18),(1995.29,-0.13),(1995.36,-0.254),(1995.44,-0.171),(1995.52,-0.13),(1995.60,-0.254),(1995.68,-0.461),(1995.76,-0.729),(1995.84,-0.295),(1995.92,0.159),(1996.0,0.428),(1996.07,0.366),(1996.17,0.407),(1996.27,0.386),(1996.37,0.324),(1996.47,0.2),(1996.56,0.118),(1996.64,-0.13),(1996.72,-0.605),(1996.80,-0.337),(1996.88,-0.006),(1996.96,0.49),(1997.04,0.82),(1997.12,0.903),(1997.19,0.738),(1997.27,0.634),(1997.35,0.304),(1997.43,0.593),(1997.51,0.696),(1997.59,0.572),(1997.67,0.49),(1997.76,0.366),(1997.86,0.304),(1997.96,0.407),(1998.06,0.634),(1998.14,0.593),(1998.22,0.407),(1998.30,0.221),(1998.39,-0.543),(1998.47,-0.605),(1998.55,-0.564),(1998.63,-0.461),(1998.73,-0.13),(1998.83,0.118),(1998.91,0.242),(1998.98,0.386),(1999.06,0.49),(1999.14,0.138),(1999.22,-0.13),(1999.32,-0.564),(1999.42,-0.461),(1999.52,-0.254),(1999.61,-0.171),(1999.71,-0.13),(1999.81,-0.213),(1999.91,-0.295),(2000.01,-0.337),(2000.11,-0.461),(2000.16,-0.833),(2000.24,-1.163),(2000.32,-1.287),(2000.40,-1.142),(2000.48,-0.956),(2000.56,-0.812),(2000.66,-0.833),(2000.74,-0.915),(2000.81,-0.584),(2000.89,-0.295),(2000.97,-0.089),(2001.05,-0.254),(2001.13,-0.543),(2001.21,-0.337),(2001.29,0.035),(2001.36,-0.213),(2001.44,-0.13),(2001.52,0.076),(2001.60,0.428),(2001.68,0.159),(2001.76,-0.419),(2001.84,-0.667),(2001.92,-0.502),(2001.99,-0.213),(2002.07,-0.295),(2002.15,-0.378),(2002.23,0.283),(2002.31,0.386),(2002.39,0.221),(2002.47,-0.13),(2002.55,-0.337),(2002.61,-0.502)]
E_AFT_RIVER = [(1993.02,0.531),(1993.10,0.448),(1993.18,0.366),(1993.26,0.531),(1993.34,0.779),(1993.42,0.531),(1993.50,0.035),(1993.57,-0.213),(1993.65,-0.461),(1993.73,-0.564),(1993.81,-0.399),(1993.89,-0.13),(1993.97,0.2),(1994.05,0.324),(1994.12,0.448),(1994.20,0.634),(1994.28,0.758),(1994.36,0.841),(1994.44,0.717),(1994.52,0.49),(1994.60,0.159),(1994.68,-0.11),(1994.75,-0.254),(1994.83,-0.337),(1994.91,-0.213),(1994.99,0.076),(1995.07,0.283),(1995.15,0.49),(1995.23,0.552),(1995.31,0.49),(1995.38,0.242),(1995.46,-0.006),(1995.54,-0.13),(1995.62,-0.295),(1995.70,-0.419),(1995.78,-0.316),(1995.86,-0.13),(1995.93,0.035),(1996.01,0.2),(1996.09,0.138),(1996.17,0.076),(1996.25,-0.006),(1996.33,-0.048),(1996.41,-0.089),(1996.49,-0.213),(1996.56,-0.337),(1996.64,-0.44),(1996.72,-0.481),(1996.80,-0.295),(1996.88,-0.027),(1996.96,0.2),(1997.04,0.448),(1997.12,0.779),(1997.19,0.965),(1997.27,0.882),(1997.35,0.696),(1997.43,0.428),(1997.51,0.159),(1997.59,-0.171),(1997.67,-0.461),(1997.75,-0.585),(1997.82,-0.543),(1997.90,-0.316),(1997.98,0.076),(1998.06,0.407),(1998.14,0.614),(1998.22,0.531),(1998.30,0.386),(1998.37,-0.378),(1998.45,-0.502),(1998.53,-0.419),(1998.61,-0.378),(1998.69,-0.337),(1998.77,-0.254),(1998.85,-0.048),(1998.93,0.159),(1999.0,0.448),(1999.08,0.552),(1999.16,0.386),(1999.24,0.118),(1999.32,-0.13),(1999.40,-0.13),(1999.48,-0.233),(1999.55,-0.337),(1999.63,-0.502),(1999.71,-0.585),(1999.79,-0.647),(1999.87,-0.605),(1999.95,-0.564),(2000.03,-0.667),(2000.11,-0.709),(2000.18,-0.543),(2000.26,-0.378),(2000.34,-0.481),(2000.42,-0.585),(2000.50,-0.75),(2000.58,-0.812),(2000.66,-0.853),(2000.74,-0.791),(2000.81,-0.502),(2000.89,-0.171),(2000.97,-0.006),(2001.05,0.242),(2001.13,0.407),(2001.21,0.469),(2001.29,0.283),(2001.36,-0.006),(2001.44,-0.171),(2001.52,-0.089),(2001.60,-0.006),(2001.68,0.076),(2001.76,0.035),(2001.84,-0.048),(2001.92,-0.171),(2001.99,-0.006),(2002.07,0.118),(2002.15,0.242),(2002.23,0.324),(2002.31,0.221),(2002.39,-0.006),(2002.47,-0.254),(2002.55,-0.585),(2002.61,-0.729)]

F_BEF_TOPEX = [(1993.06,-0.295),(1993.12,-0.047),(1993.18,0.056),(1993.23,0.159),(1993.33,0.128),(1993.43,0.076),(1993.50,-0.212),(1993.58,-0.522),(1993.64,-0.646),(1993.70,-0.749),(1993.76,-0.604),(1993.83,-0.254),(1993.91,-0.027),(1993.99,0.159),(1994.06,0.035),(1994.14,-0.13),(1994.22,0.035),(1994.30,0.138),(1994.37,-0.171),(1994.45,-0.006),(1994.53,-0.13),(1994.60,-0.254),(1994.68,-0.006),(1994.76,0.283),(1994.84,0.179),(1994.91,0.448),(1994.99,0.633),(1995.07,0.2),(1995.14,-0.254),(1995.22,-0.522),(1995.30,-0.625),(1995.38,-0.542),(1995.45,-0.501),(1995.53,-0.336),(1995.61,-0.151),(1995.69,0.076),(1995.76,0.241),(1995.84,0.262),(1995.92,0.221),(1996.0,0.076),(1996.07,0.2),(1996.15,0.427),(1996.23,0.571),(1996.30,0.448),(1996.38,0.138),(1996.46,0.241),(1996.53,0.118),(1996.61,-0.13),(1996.69,-0.439),(1996.77,-0.13),(1996.84,0.159),(1996.92,0.324),(1997.0,0.159),(1997.07,0.076),(1997.15,-0.027),(1997.23,0.076),(1997.31,0.159),(1997.38,0.386),(1997.46,0.778),(1997.54,0.633),(1997.61,0.324),(1997.69,0.159),(1997.77,-0.047),(1997.85,-0.212),(1997.92,-0.212),(1998.0,0.448),(1998.08,0.778),(1998.14,0.695),(1998.19,0.489),(1998.27,0.283),(1998.35,-0.13),(1998.42,-0.212),(1998.50,-0.254),(1998.60,-0.254),(1998.69,-0.171),(1998.79,-0.13),(1998.89,-0.13),(1998.98,-0.047),(1999.08,0.014),(1999.18,-0.006),(1999.25,-0.212),(1999.33,-0.377),(1999.41,-0.254),(1999.51,-0.336),(1999.60,-0.357),(1999.70,-0.254),(1999.78,-0.109),(1999.85,0.159),(1999.93,0.406),(2000.01,0.324),(2000.06,0.159),(2000.12,-0.047),(2000.18,-0.419),(2000.24,-0.811),(2000.30,-1.223),(2000.35,-1.099),(2000.45,-0.708),(2000.55,-0.542),(2000.64,-0.377),(2000.72,-0.316),(2000.80,-0.13),(2000.88,0.159),(2000.95,0.035),(2001.03,-0.047),(2001.11,0.2),(2001.18,0.283),(2001.26,0.159),(2001.34,-0.006),(2001.42,-0.13),(2001.49,-0.006),(2001.57,0.241),(2001.65,0.344),(2001.72,0.076),(2001.80,-0.13),(2001.88,-0.171),(2001.96,-0.089),(2002.03,-0.212),(2002.11,0.035),(2002.19,0.283),(2002.26,0.571),(2002.34,0.406),(2002.42,0.2),(2002.50,-0.089),(2002.57,-0.46)]
F_BEF_RIVER = [(1993.06,0.489),(1993.14,0.489),(1993.22,0.448),(1993.33,0.427),(1993.45,0.035),(1993.52,-0.212),(1993.60,-0.46),(1993.68,-0.542),(1993.76,-0.336),(1993.83,-0.006),(1993.91,0.2),(1993.99,0.283),(1994.06,0.159),(1994.14,0.551),(1994.22,0.695),(1994.30,0.84),(1994.37,0.757),(1994.45,0.633),(1994.53,0.489),(1994.60,0.159),(1994.68,-0.171),(1994.76,-0.336),(1994.84,-0.501),(1994.91,-0.336),(1994.99,-0.13),(1995.07,-0.006),(1995.14,0.159),(1995.22,0.365),(1995.30,0.53),(1995.38,0.571),(1995.45,0.448),(1995.53,0.241),(1995.61,-0.047),(1995.69,-0.336),(1995.76,-0.46),(1995.84,-0.377),(1995.92,-0.254),(1996.0,-0.089),(1996.07,0.076),(1996.15,0.2),(1996.23,0.076),(1996.30,-0.089),(1996.38,-0.171),(1996.46,-0.13),(1996.53,-0.254),(1996.61,-0.377),(1996.69,-0.254),(1996.77,-0.089),(1996.84,0.076),(1996.92,0.2),(1997.0,0.365),(1997.07,0.613),(1997.15,0.778),(1997.23,0.829),(1997.31,0.736),(1997.38,0.489),(1997.46,0.159),(1997.54,-0.089),(1997.61,-0.336),(1997.69,-0.625),(1997.77,-0.666),(1997.85,-0.439),(1997.92,-0.13),(1998.0,0.283),(1998.08,0.489),(1998.15,0.592),(1998.23,0.448),(1998.31,0.159),(1998.39,-0.254),(1998.46,-0.419),(1998.54,-0.46),(1998.62,-0.419),(1998.69,-0.295),(1998.77,-0.254),(1998.85,-0.171),(1998.93,-0.006),(1999.0,0.241),(1999.08,0.448),(1999.14,0.489),(1999.22,0.324),(1999.29,0.076),(1999.37,-0.13),(1999.45,-0.254),(1999.54,-0.357),(1999.62,-0.481),(1999.72,-0.542),(1999.81,-0.501),(1999.91,-0.481),(1999.99,-0.542),(2000.06,-0.666),(2000.14,-0.749),(2000.22,-0.666),(2000.30,-0.584),(2000.37,-0.542),(2000.45,-0.666),(2000.53,-0.769),(2000.61,-0.749),(2000.68,-0.625),(2000.76,-0.46),(2000.84,-0.295),(2000.91,-0.13),(2000.99,0.076),(2001.07,0.241),(2001.14,0.386),(2001.22,0.468),(2001.30,0.159),(2001.38,-0.295),(2001.45,-0.13),(2001.53,0.035),(2001.61,0.159),(2001.69,0.035),(2001.76,-0.171),(2001.84,-0.419),(2001.92,-0.254),(2001.99,-0.006),(2002.07,0.159),(2002.15,0.324),(2002.23,0.2),(2002.30,0.159),(2002.38,-0.006),(2002.46,-0.254),(2002.53,-0.501),(2002.59,-0.646)]
F_AFT_TOPEX = [(1993.09,0.411),(1993.17,0.477),(1993.25,0.576),(1993.32,0.295),(1993.40,0.015),(1993.48,-0.398),(1993.56,-0.695),(1993.63,-0.843),(1993.71,-0.612),(1993.79,-0.497),(1993.86,-0.068),(1993.94,0.262),(1994.02,0.477),(1994.09,0.262),(1994.17,-0.018),(1994.25,-0.15),(1994.32,-0.2),(1994.40,0.064),(1994.48,0.13),(1994.55,0.196),(1994.63,-0.068),(1994.71,-0.15),(1994.78,-0.2),(1994.86,-0.233),(1994.94,-0.315),(1995.01,0.097),(1995.09,0.295),(1995.17,0.444),(1995.25,0.493),(1995.32,0.097),(1995.40,-0.299),(1995.48,-0.068),(1995.55,-0.167),(1995.63,-0.398),(1995.69,-0.695),(1995.74,-0.942),(1995.80,-0.728),(1995.86,-0.365),(1995.92,0.229),(1995.97,0.592),(1996.05,0.493),(1996.13,0.378),(1996.21,0.328),(1996.28,0.229),(1996.36,0.163),(1996.44,0.048),(1996.51,-0.068),(1996.59,-0.233),(1996.67,-0.299),(1996.74,-0.101),(1996.82,0.328),(1996.90,0.427),(1996.97,0.262),(1997.05,0.13),(1997.13,0.592),(1997.18,0.873),(1997.26,0.757),(1997.34,0.427),(1997.41,0.229),(1997.49,-0.002),(1997.57,-0.2),(1997.65,-0.431),(1997.72,-0.645),(1997.80,-0.728),(1997.88,-0.612),(1997.95,0.064),(1998.03,0.592),(1998.11,0.774),(1998.18,0.625),(1998.26,0.394),(1998.34,-0.53),(1998.41,-0.662),(1998.49,-0.596),(1998.57,-0.53),(1998.64,-0.282),(1998.72,-0.2),(1998.80,0.064),(1998.87,0.015),(1998.95,-0.134),(1999.03,-0.002),(1999.10,0.081),(1999.18,-0.002),(1999.26,-0.101),(1999.33,-0.266),(1999.41,-0.447),(1999.49,-0.596),(1999.57,-0.53),(1999.64,-0.464),(1999.72,-0.398),(1999.80,-0.332),(1999.87,-0.233),(1999.95,-0.216),(2000.03,-0.183),(2000.08,-0.183),(2000.14,-0.332),(2000.22,-0.497),(2000.29,-0.579),(2000.37,-0.645),(2000.45,-0.711),(2000.53,-0.81),(2000.60,-0.835),(2000.68,-0.777),(2000.76,-0.645),(2000.83,-0.579),(2000.91,-0.645),(2000.99,-0.728),(2001.06,-0.48),(2001.14,-0.266),(2001.22,0.097),(2001.29,-0.233),(2001.37,-0.117),(2001.45,0.097),(2001.52,0.229),(2001.60,0.312),(2001.68,0.196),(2001.75,-0.035),(2001.83,-0.216),(2001.91,-0.101),(2001.99,-0.002),(2002.06,0.13),(2002.14,0.345),(2002.22,0.592),(2002.28,0.724),(2002.33,0.559),(2002.39,0.361),(2002.45,0.064),(2002.52,-0.233),(2002.58,-0.538)]
F_AFT_RIVER = [(1993.09,0.427),(1993.17,0.394),(1993.25,0.328),(1993.32,0.196),(1993.40,-0.002),(1993.48,-0.233),(1993.56,-0.332),(1993.63,-0.381),(1993.71,-0.299),(1993.79,-0.035),(1993.86,0.262),(1993.94,0.394),(1994.02,0.295),(1994.09,0.543),(1994.17,0.691),(1994.25,0.757),(1994.32,0.807),(1994.40,0.625),(1994.48,0.427),(1994.55,0.196),(1994.63,-0.117),(1994.71,-0.332),(1994.78,-0.48),(1994.86,-0.546),(1994.94,-0.431),(1995.01,-0.233),(1995.09,0.015),(1995.17,0.262),(1995.25,0.427),(1995.32,0.526),(1995.40,0.493),(1995.48,0.229),(1995.55,-0.051),(1995.63,-0.266),(1995.71,-0.414),(1995.78,-0.497),(1995.86,-0.398),(1995.94,-0.15),(1996.01,0.097),(1996.09,0.196),(1996.17,0.064),(1996.24,-0.068),(1996.32,-0.134),(1996.40,-0.2),(1996.47,-0.167),(1996.55,-0.233),(1996.63,-0.332),(1996.70,-0.381),(1996.78,-0.233),(1996.86,-0.035),(1996.93,0.18),(1997.01,0.394),(1997.09,0.592),(1997.17,0.823),(1997.22,0.939),(1997.30,0.84),(1997.38,0.592),(1997.45,0.328),(1997.53,-0.002),(1997.61,-0.233),(1997.68,-0.464),(1997.76,-0.546),(1997.84,-0.431),(1997.91,-0.134),(1997.99,0.196),(1998.07,0.46),(1998.14,0.559),(1998.22,0.493),(1998.30,0.097),(1998.37,-0.398),(1998.45,-0.497),(1998.53,-0.53),(1998.61,-0.431),(1998.68,-0.332),(1998.76,-0.2),(1998.84,-0.068),(1998.91,0.097),(1998.99,0.262),(1999.07,0.46),(1999.14,0.361),(1999.22,0.229),(1999.30,0.064),(1999.37,-0.101),(1999.45,-0.282),(1999.53,-0.53),(1999.60,-0.645),(1999.68,-0.695),(1999.76,-0.711),(1999.83,-0.728),(1999.91,-0.695),(1999.99,-0.761),(2000.06,-0.794),(2000.14,-0.695),(2000.22,-0.629),(2000.29,-0.612),(2000.37,-0.662),(2000.45,-0.711),(2000.53,-0.827),(2000.60,-0.81),(2000.68,-0.695),(2000.76,-0.497),(2000.83,-0.365),(2000.91,-0.167),(2000.99,-0.068),(2001.06,0.031),(2001.14,0.196),(2001.22,0.427),(2001.29,0.064),(2001.37,-0.332),(2001.45,-0.233),(2001.52,-0.002),(2001.60,0.097),(2001.68,-0.002),(2001.75,-0.2),(2001.83,-0.398),(2001.91,-0.332),(2001.99,-0.101),(2002.06,0.097),(2002.14,0.196),(2002.22,0.312),(2002.29,0.229),(2002.37,0.097),(2002.45,-0.134),(2002.52,-0.348),(2002.60,-0.662)]

G_BEF_TOPEX = [(1993.02,-0.122),(1993.08,-0.022),(1993.12,0.152),(1993.16,0.227),(1993.22,0.402),(1993.28,0.527),(1993.36,0.726),(1993.44,0.527),(1993.52,0.077),(1993.60,-0.247),(1993.67,-0.472),(1993.75,-0.696),(1993.83,-0.372),(1993.91,0.077),(1993.97,0.402),(1994.03,0.102),(1994.11,-0.072),(1994.19,0.077),(1994.27,0.177),(1994.34,0.127),(1994.42,0.077),(1994.50,0.027),(1994.58,0.252),(1994.66,-0.047),(1994.74,-0.247),(1994.82,-0.472),(1994.90,-0.447),(1994.98,-0.322),(1995.05,-0.022),(1995.13,0.577),(1995.21,0.564),(1995.29,0.302),(1995.37,0.177),(1995.45,0.127),(1995.53,0.002),(1995.61,-0.172),(1995.68,-0.047),(1995.76,-0.047),(1995.84,0.227),(1995.92,0.327),(1996.0,0.177),(1996.08,0.327),(1996.16,0.527),(1996.24,0.726),(1996.32,0.826),(1996.39,0.776),(1996.47,0.577),(1996.55,0.327),(1996.63,0.077),(1996.71,0.127),(1996.79,0.227),(1996.87,0.377),(1996.95,0.477),(1997.02,0.327),(1997.10,0.202),(1997.18,0.227),(1997.26,0.177),(1997.34,0.027),(1997.42,-0.272),(1997.50,0.027),(1997.58,0.127),(1997.66,0.077),(1997.73,-0.022),(1997.81,-0.122),(1997.89,-0.272),(1997.97,-0.222),(1998.05,-0.172),(1998.15,-0.222),(1998.25,-0.272),(1998.34,-0.322),(1998.44,-0.422),(1998.52,-0.771),(1998.60,-0.946),(1998.68,-0.846),(1998.76,-0.646),(1998.84,-0.322),(1998.92,0.027),(1999.0,-0.097),(1999.07,-0.372),(1999.15,-0.522),(1999.23,-0.671),(1999.31,-0.921),(1999.39,-1.146),(1999.47,-1.021),(1999.55,-0.522),(1999.63,-0.322),(1999.72,-0.072),(1999.82,0.377),(1999.90,0.452),(1999.98,0.077),(2000.06,-0.072),(2000.14,-0.372),(2000.22,-0.721),(2000.30,-0.896),(2000.37,-0.671),(2000.45,-0.571),(2000.53,-0.422),(2000.61,-0.322),(2000.71,-0.072),(2000.81,-0.147),(2000.91,-0.172),(2001.0,-0.022),(2001.08,-0.147),(2001.16,-0.397),(2001.24,-0.547),(2001.32,-0.372),(2001.40,-0.322),(2001.48,-0.022),(2001.56,0.327),(2001.64,0.302),(2001.72,0.177),(2001.79,0.077),(2001.87,0.227),(2001.95,0.477),(2002.03,0.627),(2002.11,0.826),(2002.19,0.976),(2002.25,0.876),(2002.31,0.627),(2002.37,0.177),(2002.42,-0.122),(2002.50,-0.447),(2002.58,-0.547)]
G_BEF_RIVER = [(1993.02,0.277),(1993.08,0.377),(1993.16,0.477),(1993.24,0.577),(1993.32,0.626),(1993.40,0.477),(1993.48,0.127),(1993.56,-0.122),(1993.64,-0.272),(1993.71,-0.522),(1993.79,-0.646),(1993.87,-0.247),(1993.95,0.102),(1994.03,0.177),(1994.11,0.377),(1994.19,0.676),(1994.27,0.776),(1994.34,0.801),(1994.42,0.626),(1994.50,0.377),(1994.58,0.052),(1994.66,-0.222),(1994.74,-0.372),(1994.82,-0.272),(1994.90,-0.122),(1994.98,0.027),(1995.05,0.177),(1995.13,0.377),(1995.21,0.527),(1995.29,0.502),(1995.37,0.352),(1995.45,0.127),(1995.53,-0.147),(1995.61,-0.372),(1995.68,-0.472),(1995.76,-0.272),(1995.84,-0.097),(1995.92,0.027),(1996.0,-0.122),(1996.08,-0.222),(1996.16,-0.272),(1996.24,-0.222),(1996.32,-0.122),(1996.39,-0.172),(1996.47,-0.247),(1996.55,-0.372),(1996.63,-0.422),(1996.71,-0.222),(1996.79,0.002),(1996.87,0.177),(1996.95,0.327),(1997.02,0.502),(1997.10,0.676),(1997.18,0.826),(1997.26,0.926),(1997.34,0.751),(1997.42,0.477),(1997.50,0.177),(1997.58,-0.147),(1997.66,-0.522),(1997.73,-0.696),(1997.81,-0.472),(1997.89,-0.172),(1997.97,0.177),(1998.05,0.327),(1998.13,0.452),(1998.21,0.502),(1998.29,0.327),(1998.36,0.127),(1998.44,-0.072),(1998.52,-0.122),(1998.60,-0.222),(1998.68,-0.122),(1998.76,-0.022),(1998.84,0.077),(1998.92,0.277),(1999.0,0.427),(1999.07,0.227),(1999.15,0.077),(1999.23,-0.072),(1999.31,-0.122),(1999.39,-0.222),(1999.47,-0.372),(1999.55,-0.497),(1999.63,-0.646),(1999.72,-0.771),(1999.82,-0.821),(1999.92,-0.846),(2000.02,-0.871),(2000.12,-0.721),(2000.22,-0.621),(2000.32,-0.571),(2000.41,-0.646),(2000.51,-0.796),(2000.61,-0.746),(2000.71,-0.571),(2000.81,-0.372),(2000.91,-0.172),(2001.0,0.077),(2001.08,0.277),(2001.16,0.427),(2001.24,0.227),(2001.32,0.027),(2001.40,-0.172),(2001.48,-0.272),(2001.56,-0.222),(2001.64,-0.172),(2001.72,-0.122),(2001.79,-0.147),(2001.87,-0.197),(2001.95,-0.022),(2002.03,0.177),(2002.11,0.327),(2002.19,0.277),(2002.27,0.127),(2002.35,-0.072),(2002.42,-0.322),(2002.50,-0.522),(2002.58,-0.721)]
G_AFT_TOPEX = [(1992.99,0.404),(1993.05,0.292),(1993.11,0.217),(1993.18,0.641),(1993.26,0.841),(1993.32,0.641),(1993.40,0.192),(1993.48,-0.182),(1993.56,-0.357),(1993.64,-0.557),(1993.72,-0.806),(1993.78,-1.056),(1993.84,-0.931),(1993.91,-0.432),(1993.99,-0.107),(1994.07,0.242),(1994.15,0.392),(1994.23,0.342),(1994.31,-0.007),(1994.39,0.042),(1994.47,-0.057),(1994.55,-0.232),(1994.62,-0.457),(1994.70,-0.581),(1994.78,-0.606),(1994.86,-0.307),(1994.94,0.142),(1995.02,0.641),(1995.08,0.941),(1995.14,1.116),(1995.20,0.816),(1995.28,0.641),(1995.36,0.292),(1995.43,0.042),(1995.51,-0.407),(1995.59,-0.606),(1995.67,-0.856),(1995.75,-0.806),(1995.83,-0.507),(1995.91,-0.132),(1995.99,0.192),(1996.07,0.342),(1996.14,0.517),(1996.22,0.467),(1996.30,0.342),(1996.38,0.192),(1996.46,-0.007),(1996.54,-0.257),(1996.62,-0.407),(1996.70,-0.207),(1996.78,0.142),(1996.86,0.417),(1996.93,0.492),(1997.01,0.367),(1997.09,0.442),(1997.17,0.641),(1997.25,0.741),(1997.33,0.442),(1997.41,-0.057),(1997.49,-0.432),(1997.57,-0.706),(1997.62,-0.981),(1997.70,-0.681),(1997.78,-0.457),(1997.86,-0.157),(1997.94,0.192),(1998.02,0.542),(1998.08,0.716),(1998.16,0.392),(1998.24,0.067),(1998.32,-0.157),(1998.39,-0.457),(1998.47,-0.557),(1998.55,-0.507),(1998.63,-0.507),(1998.71,-0.307),(1998.79,0.192),(1998.87,0.741),(1998.93,1.215),(1998.99,0.866),(1999.07,0.492),(1999.14,-0.132),(1999.22,-0.557),(1999.30,-0.781),(1999.38,-0.457),(1999.46,-0.257),(1999.54,-0.157),(1999.62,-0.457),(1999.70,-0.557),(1999.78,-0.357),(1999.85,-0.257),(1999.93,-0.107),(2000.01,0.167),(2000.09,-0.182),(2000.17,-0.482),(2000.25,-0.781),(2000.33,-1.155),(2000.41,-1.081),(2000.49,-0.806),(2000.57,-0.557),(2000.64,-0.257),(2000.72,0.042),(2000.80,0.217),(2000.88,0.367),(2000.96,0.492),(2001.04,0.192),(2001.12,-0.107),(2001.20,-0.257),(2001.28,-0.057),(2001.36,-0.257),(2001.43,-0.357),(2001.51,-0.157),(2001.59,-0.007),(2001.67,0.142),(2001.75,0.342),(2001.83,0.542),(2001.91,0.641),(2001.99,0.716),(2002.07,0.816),(2002.13,0.641),(2002.18,0.442),(2002.26,0.142),(2002.34,-0.157),(2002.42,-0.307),(2002.50,-0.057),(2002.58,0.292)]
G_AFT_RIVER = [(1992.99,0.242),(1993.07,0.392),(1993.14,0.542),(1993.22,0.591),(1993.30,0.442),(1993.38,0.242),(1993.46,-0.007),(1993.54,-0.207),(1993.62,-0.457),(1993.70,-0.656),(1993.78,-0.557),(1993.86,-0.257),(1993.93,-0.007),(1994.01,0.192),(1994.09,0.442),(1994.17,0.691),(1994.25,0.791),(1994.33,0.816),(1994.41,0.641),(1994.49,0.342),(1994.57,0.042),(1994.64,-0.207),(1994.72,-0.407),(1994.80,-0.457),(1994.88,-0.257),(1994.96,0.042),(1995.04,0.242),(1995.12,0.392),(1995.20,0.517),(1995.28,0.492),(1995.36,0.342),(1995.43,0.092),(1995.51,-0.207),(1995.59,-0.457),(1995.67,-0.507),(1995.75,-0.307),(1995.83,-0.107),(1995.91,0.042),(1995.99,-0.057),(1996.07,-0.157),(1996.14,-0.207),(1996.22,-0.157),(1996.30,-0.107),(1996.38,-0.157),(1996.46,-0.257),(1996.54,-0.357),(1996.62,-0.432),(1996.70,-0.207),(1996.78,0.042),(1996.86,0.192),(1996.93,0.342),(1997.01,0.492),(1997.09,0.691),(1997.17,0.866),(1997.25,0.941),(1997.33,0.766),(1997.41,0.492),(1997.49,0.142),(1997.57,-0.207),(1997.64,-0.507),(1997.72,-0.581),(1997.80,-0.382),(1997.88,-0.107),(1997.96,0.192),(1998.04,0.442),(1998.12,0.492),(1998.20,0.342),(1998.28,0.092),(1998.36,-0.132),(1998.43,-0.257),(1998.51,-0.207),(1998.59,-0.182),(1998.67,-0.107),(1998.75,-0.007),(1998.83,0.142),(1998.91,0.242),(1998.99,0.342),(1999.07,0.292),(1999.14,0.192),(1999.22,-0.007),(1999.30,-0.132),(1999.38,-0.207),(1999.46,-0.307),(1999.54,-0.457),(1999.62,-0.581),(1999.70,-0.706),(1999.78,-0.756),(1999.85,-0.806),(1999.93,-0.856),(2000.01,-0.806),(2000.09,-0.706),(2000.17,-0.656),(2000.25,-0.557),(2000.33,-0.581),(2000.41,-0.681),(2000.49,-0.781),(2000.57,-0.831),(2000.64,-0.856),(2000.72,-0.706),(2000.80,-0.557),(2000.88,-0.382),(2000.96,-0.257),(2001.04,-0.107),(2001.12,0.242),(2001.20,0.442),(2001.28,0.292),(2001.36,0.042),(2001.43,-0.157),(2001.51,-0.232),(2001.59,-0.107),(2001.67,0.042),(2001.75,0.142),(2001.83,0.092),(2001.91,-0.007),(2001.99,-0.057),(2002.07,0.142),(2002.15,0.342),(2002.23,0.392),(2002.31,0.292),(2002.39,0.042),(2002.46,-0.207),(2002.54,-0.557),(2002.60,-0.656)]

TITLES = [
    "Before retracking: CC=0.16, RMS=26.4 cm", "After retracking: CC=0.71, RMS=13.3 cm",
    "Before retracking: CC=0.27, RMS=24.8 cm", "After retracking: CC=0.63, RMS=17.4 cm",
    "Before retracking: CC=0.40, RMS=46.0 cm", "After retracking: CC=0.65, RMS=35.9 cm",
    "Before retracking: CC=0.17, RMS=47.9 cm", "After retracking: CC=0.46, RMS=45.9 cm",
    "Before retracking: CC=0.24, RMS=50.0 cm", "After retracking: CC=0.63, RMS=40.1 cm",
    "Before retracking: CC=0.25, RMS=46.4 cm", "After retracking: CC=0.67, RMS=33.7 cm",
    "Before retracking: CC=0.37, RMS=46.8 cm", "After retracking: CC=0.67, RMS=39.1 cm",
]
PANEL_LABELS = ["(a)", "", "(b)", "", "(c)", "", "(d)", "", "(e)", "", "(f)", "", "(g)", ""]
SERIES = [
    (A_BEF_TOPEX, A_BEF_RIVER), (A_AFT_TOPEX, A_AFT_RIVER),
    (B_BEF_TOPEX, B_BEF_RIVER), (B_AFT_TOPEX, B_AFT_RIVER),
    (C_BEF_TOPEX, C_BEF_RIVER), (C_AFT_TOPEX, C_AFT_RIVER),
    (D_BEF_TOPEX, D_BEF_RIVER), (D_AFT_TOPEX, D_AFT_RIVER),
    (E_BEF_TOPEX, E_BEF_RIVER), (E_AFT_TOPEX, E_AFT_RIVER),
    (F_BEF_TOPEX, F_BEF_RIVER), (F_AFT_TOPEX, F_AFT_RIVER),
    (G_BEF_TOPEX, G_BEF_RIVER), (G_AFT_TOPEX, G_AFT_RIVER),
]
Y_RANGES = [(-0.5, 0.5), (-0.4, 0.4), (-0.6, 0.6), (-0.6, 0.6), (-1, 1.5), (-1.5, 1),
            (-1, 1), (-1.5, 1.5), (-1, 1.5), (-1.5, 1), (-1.5, 1), (-1, 1), (-1.5, 1.5), (-1.5, 1.5)]
Y_STEPS = [0.5, 0.1, 0.2, 0.2, 0.5, 0.5, 0.5, 0.5, 0.5, 0.5, 0.5, 0.5, 0.5, 0.5]
Y_TICK_MIN = [-0.5, -0.4, -0.4, -0.4, -1, -1.5, -1, -1.5, -1, -1.5, -1.5, -1, -1.5, -1.5]
X_TICKS = [1992, 1994, 1996, 1998, 2000, 2002, 2004]
SERIES_NAMES = ["TOPEX", "River Gauge"]
CAPTION = ["Comparison of TOPEX and", "nearby river gauge water level",
           "time series before and after", "retracking over (a) Area3_6, (b)",
           "Area3_9, (c) Area5_15, (d)", "Area5_17, (e) Area5_18, (f)",
           "Area5_19, and (g) Area5_22."]

# ---------------- LAYOUT (pixel geometry) ----------------
W, H = 2157, 2227
BOXES = [(151, 561, 103, 507), (675, 1087, 106, 508), (1203, 1615, 106, 508), (1730, 2130, 106, 508),
         (140, 550, 650, 1052), (670, 1081, 650, 1052), (1198, 1609, 646, 1049), (1727, 2139, 646, 1049),
         (138, 549, 1197, 1600), (664, 1076, 1201, 1602), (1198, 1609, 1201, 1603), (1727, 2141, 1201, 1603),
         (136, 548, 1757, 2161), (668, 1079, 1759, 2163)]
WHITE_PANELS = [(79, 2200, 66, 562), (70, 601, 613, 1107), (601, 1125, 608, 1117), (1125, 2200, 608, 1108),
                (68, 601, 1162, 1655), (594, 1125, 1165, 1657), (1125, 2200, 1163, 1656), (68, 1130, 1720, 2217)]
COLORS = ["#0000ff", "#ff0000"]
FONT = "Liberation Sans, Arial, Helvetica, sans-serif"


def fx(px):
    return px / W


def fy(py):
    return 1 - py / H


def fmt(v):
    v = round(v, 3)
    if abs(v) < 1e-9:
        return "0"
    return ("%g" % v)


fig = go.Figure()
shapes = []
annotations = []

# background gradient
N = 80
for i in range(N):
    t = i / (N - 1)
    c = int(round(245 + (216 - 245) * t))
    shapes.append(dict(type="rect", xref="paper", yref="paper", x0=0, x1=1,
                       y0=fy((i + 1) * H / N + 2), y1=fy(i * H / N),
                       fillcolor=f"rgb({c},{c},{c})", line=dict(width=0), layer="below"))
# frame
shapes.append(dict(type="rect", xref="paper", yref="paper", x0=fx(28), x1=fx(2300), y0=fy(2400), y1=fy(9),
                   fillcolor="rgba(0,0,0,0)", line=dict(color="black", width=2.5), layer="below"))
# white image panels
for (l, r, t, b) in WHITE_PANELS:
    shapes.append(dict(type="rect", xref="paper", yref="paper", x0=fx(l), x1=fx(r), y0=fy(b), y1=fy(t),
                       fillcolor="white", line=dict(width=0), layer="below"))

layout = dict(width=W, height=H, margin=dict(l=0, r=0, t=0, b=0, pad=0, autoexpand=False), autosize=False,
              paper_bgcolor="#e6e6e6", plot_bgcolor="white", showlegend=True,
              font=dict(family=FONT, color="#1a1a1a"))

for i in range(14):
    n = i + 1
    xname = "xaxis" if n == 1 else f"xaxis{n}"
    yname = "yaxis" if n == 1 else f"yaxis{n}"
    xid = "x" if n == 1 else f"x{n}"
    yid = "y" if n == 1 else f"y{n}"
    leg = "legend" if n == 1 else f"legend{n}"
    l, r, t, b = BOXES[i]
    y0, y1 = Y_RANGES[i]
    yt = []
    v = Y_TICK_MIN[i]
    while v <= y1 + 1e-9:
        yt.append(round(v, 3))
        v += Y_STEPS[i]
    common = dict(showgrid=True, gridcolor="#c8c8c8", griddash="dot", gridwidth=1, zeroline=False,
                  showline=True, linecolor="#3a3a3a", linewidth=1, mirror="ticks", ticks="inside",
                  ticklen=5, tickcolor="#3a3a3a", tickfont=dict(size=18, color="#1a1a1a", family=FONT),
                  fixedrange=True, automargin=False, ticklabeloverflow="allow")
    layout[xname] = dict(domain=[fx(l), fx(r)], anchor=yid, range=[1992, 2004], tickmode="array",
                         tickvals=X_TICKS, ticktext=[str(x) for x in X_TICKS], **common)
    layout[yname] = dict(domain=[fy(b), fy(t)], anchor=xid, range=[y0, y1], tickmode="array",
                         tickvals=yt, ticktext=[fmt(x) for x in yt], **common)
    for k, ser in enumerate(SERIES[i]):
        xs = [p[0] for p in ser]
        ys = [p[1] for p in ser]
        fig.add_trace(go.Scatter(x=xs, y=ys, mode="lines+markers", name=SERIES_NAMES[k],
                                 line=dict(color=COLORS[k], width=2.5),
                                 marker=dict(size=7, color=COLORS[k]),
                                 xaxis=xid, yaxis=yid, legend=leg, showlegend=True, hoverinfo="skip"))
    layout[leg] = dict(x=fx(r - 6), y=fy(t + 8), xanchor="right", yanchor="top", bgcolor="white",
                       bordercolor="#333333", borderwidth=1, font=dict(size=18, color="#111", family=FONT),
                       tracegroupgap=0, itemwidth=30)
    cx = (l + r) / 2
    annotations.append(dict(text=TITLES[i], x=fx(cx), y=fy(t - 25), xref="paper", yref="paper",
                            showarrow=False, xanchor="center", yanchor="middle",
                            font=dict(size=17.5, color="#1a1a1a", family=FONT)))
    annotations.append(dict(text="Year", x=fx(cx), y=fy(b + 39), xref="paper", yref="paper",
                            showarrow=False, xanchor="center", yanchor="middle",
                            font=dict(size=18, color="#1a1a1a", family=FONT)))
    annotations.append(dict(text="Height differences (m)", x=fx(l - 50), y=fy((t + b) / 2),
                            xref="paper", yref="paper", showarrow=False, textangle=-90,
                            xanchor="center", yanchor="middle",
                            font=dict(size=19.5, color="#1a1a1a", family=FONT)))
    if PANEL_LABELS[i]:
        annotations.append(dict(text=PANEL_LABELS[i], x=fx(l + 36), y=fy(t + 35), xref="paper",
                                yref="paper", showarrow=False, xanchor="center", yanchor="middle",
                                font=dict(size=32, color="#111", family=FONT)))

# caption text block
for j, line in enumerate(CAPTION):
    baseline = 1769 + 77 * j
    annotations.append(dict(text="<b>" + line + "</b>", x=fx(1161), y=fy(baseline - 21), xref="paper",
                            yref="paper", showarrow=False, xanchor="left", yanchor="middle",
                            font=dict(size=63, color="black", family=FONT)))

layout["shapes"] = shapes
layout["annotations"] = annotations
fig.update_layout(**layout)
fig.write_html(
    "out.html",
    config={"responsive": False, "displayModeBar": False},
    post_script="document.documentElement.style.margin='0';document.body.style.margin='0';"
                "document.body.style.padding='0';document.body.style.overflow='hidden';"
                "document.documentElement.style.overflow='hidden';",
)
